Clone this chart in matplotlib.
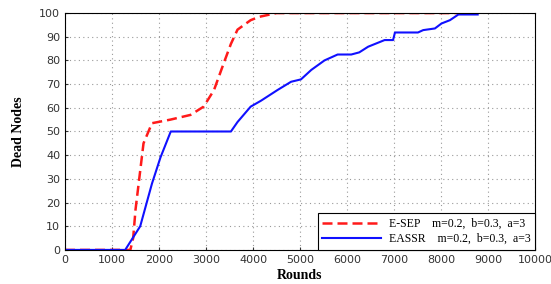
import matplotlib
matplotlib.use("Agg")
import matplotlib.pyplot as plt

# E-SEP (red dashed): rounds vs dead nodes
esep_rounds = [0, 1390, 1450, 1500, 1670, 1850, 2240, 2670, 2950, 3170, 3380,
               3530, 3670, 3950, 4130, 4500, 8400]
esep_dead = [0, 0, 5, 17, 45, 53.5, 55, 57, 60.5, 67.5, 79,
             87, 93, 97, 98.4, 100, 100]

# EASSR (blue solid)
eassr_rounds = [0, 1280, 1600, 1850, 2030, 2250, 3530, 3670, 3950, 4170, 4520,
                4810, 5020, 5240, 5520, 5800, 6090, 6260, 6450, 6800, 6980,
                7020, 7510, 7620, 7870, 8010, 8190, 8370, 8780]
eassr_dead = [0, 0, 10, 28, 39, 50, 50, 54, 60.5, 63, 67.5,
              71, 72, 76, 80, 82.5, 82.5, 83.4, 85.8, 88.6, 88.6,
              91.8, 91.8, 92.8, 93.5, 95.6, 97, 99.4, 99.4]

labels = ["E-SEP    m=0.2,  b=0.3,  a=3", "EASSR    m=0.2,  b=0.3,  a=3"]

fig = plt.figure(figsize=(5.51, 2.84), dpi=100)
ax = fig.add_axes([0.118, 0.12, 0.853, 0.834])

ax.plot(esep_rounds, esep_dead, color="#ff1a1a", linestyle=(0, (4, 2)),
        linewidth=1.8, label=labels[0])
ax.plot(eassr_rounds, eassr_dead, color="#1010ff", linewidth=1.5, label=labels[1])

ax.set_xlim(0, 10000)
ax.set_ylim(0, 100)
ax.set_xticks(range(0, 10001, 1000))
ax.set_yticks(range(0, 101, 10))
ax.tick_params(labelsize=8, length=2, direction="in", colors="#333333")
ax.grid(True, color="#999999", linestyle=(0, (1, 3)), linewidth=0.8)

ax.set_xlabel("Rounds", family="Liberation Serif", fontweight="bold",
              fontsize=10, labelpad=3)
ax.set_ylabel("Dead Nodes", family="Liberation Serif", fontweight="bold",
              fontsize=10, labelpad=10)

leg = ax.legend(loc="lower right", prop={"family": "Liberation Serif", "size": 8.5},
                fancybox=False, framealpha=1, edgecolor="black",
                borderaxespad=0, handlelength=5, labelspacing=0.3,
                borderpad=0.4, handletextpad=0.6)
leg.get_frame().set_linewidth(0.8)

fig.savefig("out.png", dpi=100)
